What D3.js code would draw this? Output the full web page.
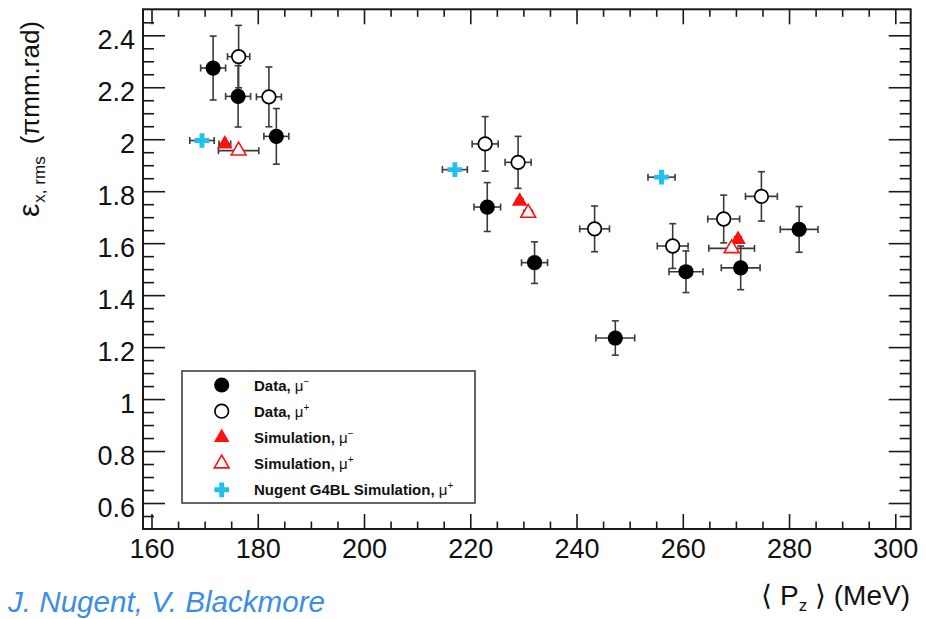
<!DOCTYPE html>
<html>
<head>
<meta charset="utf-8">
<script src="https://cdn.jsdelivr.net/npm/d3@7"></script>
<style>
  body { margin: 0; background: #fff; }
  svg { display: block; font-family: "Liberation Sans", Arial, Helvetica, sans-serif; }
</style>
</head>
<body>
<svg id="chart" width="926" height="619"></svg>
<script>
// Each row: [<Pz> (MeV), emittance (pi mm rad), Pz error, emittance error]
const dataMuMinus = [
  [171.6, 2.274, 2.35, 0.123], [176.3, 2.165, 2.35, 0.118], [183.5, 2.011, 2.35, 0.107],
  [223.2, 1.739, 2.5, 0.094],  [232.1, 1.525, 2.45, 0.080], [247.3, 1.235, 3.65, 0.066],
  [260.6, 1.490, 3.2, 0.080],  [270.9, 1.505, 3.65, 0.084], [281.9, 1.653, 3.55, 0.088]
];
const dataMuPlus = [
  [176.4, 2.318, 2.1, 0.120],  [182.1, 2.163, 2.35, 0.115], [222.8, 1.982, 2.45, 0.105],
  [229.0, 1.911, 2.45, 0.100], [243.4, 1.655, 2.8, 0.088],  [258.1, 1.589, 2.9, 0.086],
  [267.7, 1.693, 3.0, 0.092],  [274.8, 1.780, 3.0, 0.095]
];
const simMuMinus = [[173.8, 1.982, 1.1, 0], [229.3, 1.761, 0.6, 0], [270.4, 1.614, 0.6, 0]];
const simMuPlus  = [[176.4, 1.956, 3.8, 0], [230.9, 1.716, 0.8, 0], [269.2, 1.580, 4.3, 0]];
const g4blMuPlus = [[169.5, 1.995, 2.3, 0], [217.1, 1.883, 2.35, 0], [256.0, 1.854, 2.55, 0]];

const xTicks = [160, 180, 200, 220, 240, 260, 280, 300];
const yTicks = [0.6, 0.8, 1.0, 1.2, 1.4, 1.6, 1.8, 2.0, 2.2, 2.4];
const legendLabels = [
  ["Data, ", "\u2212"], ["Data, ", "+"], ["Simulation, ", "\u2212"],
  ["Simulation, ", "+"], ["Nugent G4BL Simulation, ", "+"]
];

const W = 926, H = 619;
const margin = { left: 143, right: 15.3, top: 9.3, bottom: 90 };
const svg = d3.select("#chart");

const x = d3.scaleLinear().domain([158.4, 302.9]).range([margin.left, W - margin.right]);
const y = d3.scaleLinear().domain([0.5, 2.5]).range([H - margin.bottom, margin.top]);
const x0 = margin.left, x1 = W - margin.right, y0 = H - margin.bottom, y1 = margin.top;

const ink = "#1a1a1a";
const barInk = "#3a3a3a";
const red = "#ff1010";
const cyan = "#22c0f0";

// ---- axes: ROOT-style inward ticks on all four sides ----
const xMinor = d3.range(32, 61).map(i => i * 5).filter(v => v % 20 !== 0 && v > 158.4 && v < 302.9);
const yMinor = d3.range(11, 50).filter(i => i % 4 !== 0).map(i => +(i * 0.05).toFixed(2));

function styleAxis(g) {
  g.select(".domain").remove();
  g.selectAll(".tick line").attr("stroke", ink).attr("stroke-width", 1.6);
  g.selectAll(".tick text").attr("fill", "#111").style("font-size", "27px")
    .style("font-family", "'Liberation Sans', Arial, sans-serif");
}

const fmtY = d => (Math.abs(d - Math.round(d)) < 1e-9 ? d3.format("d")(d) : d3.format(".1f")(d));

svg.append("g").attr("transform", `translate(0,${y0})`)
  .call(d3.axisBottom(x).tickValues(xTicks).tickSizeInner(-15).tickSizeOuter(0).tickPadding(10))
  .call(styleAxis);
svg.append("g").attr("transform", `translate(0,${y0})`)
  .call(d3.axisBottom(x).tickValues(xMinor).tickSizeInner(-7.5).tickSizeOuter(0).tickFormat(""))
  .call(styleAxis);
svg.append("g").attr("transform", `translate(0,${y1})`)
  .call(d3.axisTop(x).tickValues(xTicks).tickSizeInner(-15).tickSizeOuter(0).tickFormat(""))
  .call(styleAxis);
svg.append("g").attr("transform", `translate(0,${y1})`)
  .call(d3.axisTop(x).tickValues(xMinor).tickSizeInner(-7.5).tickSizeOuter(0).tickFormat(""))
  .call(styleAxis);

const yAxisG = svg.append("g").attr("transform", `translate(${x0},0)`)
  .call(d3.axisLeft(y).tickValues(yTicks).tickSizeInner(-22).tickSizeOuter(0).tickPadding(8).tickFormat(fmtY))
  .call(styleAxis);
yAxisG.selectAll(".tick text").attr("dy", "0.5em");
svg.append("g").attr("transform", `translate(${x0},0)`)
  .call(d3.axisLeft(y).tickValues(yMinor).tickSizeInner(-11).tickSizeOuter(0).tickFormat(""))
  .call(styleAxis);
svg.append("g").attr("transform", `translate(${x1},0)`)
  .call(d3.axisRight(y).tickValues(yTicks).tickSizeInner(-22).tickSizeOuter(0).tickFormat(""))
  .call(styleAxis);
svg.append("g").attr("transform", `translate(${x1},0)`)
  .call(d3.axisRight(y).tickValues(yMinor).tickSizeInner(-11).tickSizeOuter(0).tickFormat(""))
  .call(styleAxis);

// frame
svg.append("rect")
  .attr("x", x0).attr("y", y1).attr("width", x1 - x0).attr("height", y0 - y1)
  .attr("fill", "none").attr("stroke", ink).attr("stroke-width", 2);

// ---- error bars ----
const cap = 3.5;
const allSeries = [dataMuMinus, dataMuPlus, simMuMinus, simMuPlus, g4blMuPlus];
const bars = svg.append("g").attr("stroke", barInk).attr("stroke-width", 1.6).attr("fill", "none");
allSeries.forEach(series => {
  series.forEach(([p, e, dp, de]) => {
    const cx = x(p), cy = y(e);
    if (dp > 0) {
      const xa = x(p - dp), xb = x(p + dp);
      bars.append("line").attr("x1", xa).attr("x2", xb).attr("y1", cy).attr("y2", cy);
      bars.append("line").attr("x1", xa).attr("x2", xa).attr("y1", cy - cap).attr("y2", cy + cap);
      bars.append("line").attr("x1", xb).attr("x2", xb).attr("y1", cy - cap).attr("y2", cy + cap);
    }
    if (de > 0) {
      const ya = y(e + de), yb = y(e - de);
      bars.append("line").attr("x1", cx).attr("x2", cx).attr("y1", ya).attr("y2", yb);
      bars.append("line").attr("x1", cx - cap).attr("x2", cx + cap).attr("y1", ya).attr("y2", ya);
      bars.append("line").attr("x1", cx - cap).attr("x2", cx + cap).attr("y1", yb).attr("y2", yb);
    }
  });
});

// ---- markers ----
const triPath = d3.symbol().type(d3.symbolTriangle).size(105)();
const triOpenPath = d3.symbol().type(d3.symbolTriangle).size(95)();
const crossPath = d3.symbol().type(d3.symbolCross).size(120)();

const markerStyles = [
  g => g.append("circle").attr("r", 7.6).attr("fill", "#000"),
  g => g.append("circle").attr("r", 6.8).attr("fill", "#fff").attr("stroke", "#000").attr("stroke-width", 1.7),
  g => g.append("path").attr("d", triPath).attr("fill", red),
  g => g.append("path").attr("d", triOpenPath).attr("fill", "#fff").attr("stroke", red).attr("stroke-width", 1.6),
  g => g.append("path").attr("d", crossPath).attr("fill", cyan)
];

allSeries.forEach((series, i) => {
  svg.append("g").selectAll("g").data(series).join("g")
    .attr("transform", d => `translate(${x(d[0])},${y(d[1])})`)
    .each(function () { markerStyles[i](d3.select(this)); });
});

// ---- legend ----
const legend = svg.append("g");
legend.append("rect").attr("x", 182).attr("y", 371).attr("width", 293).attr("height", 132)
  .attr("fill", "#fff").attr("stroke", "#333").attr("stroke-width", 1.5);
legendLabels.forEach(([label, sign], i) => {
  const ry = 385 + i * 26.2;
  const mg = legend.append("g").attr("transform", `translate(221.7,${ry})`);
  markerStyles[i](mg);
  const t = legend.append("text").attr("x", 254).attr("y", ry + 5.5)
    .style("font-size", "15px").style("font-weight", "bold").attr("fill", "#111");
  t.append("tspan").text(label);
  t.append("tspan").text("\u03bc").style("font-weight", "normal");
  t.append("tspan").text(sign).attr("dy", -6).style("font-size", "10px").style("font-weight", "normal");
});

// ---- axis titles ----
const yTitle = svg.append("text")
  .attr("transform", "translate(39,217) rotate(-90)")
  .attr("text-anchor", "start").attr("fill", "#111");
yTitle.append("tspan").text("\u03b5").style("font-size", "30px");
yTitle.append("tspan").text("x, rms").attr("dx", 1).attr("dy", 6).style("font-size", "17px");
yTitle.append("tspan").text("(\u03c0mm.rad)").attr("dx", 12).attr("dy", -6).style("font-size", "26px");

const xTitle = svg.append("text")
  .attr("x", 910).attr("y", 605).attr("text-anchor", "end").attr("fill", "#111")
  .style("font-size", "28px");
xTitle.append("tspan").text("\u27e8 P");
xTitle.append("tspan").text("z").attr("dy", 6).style("font-size", "17px");
xTitle.append("tspan").text(" \u27e9 (MeV)").attr("dy", -6);

// author credit
svg.append("text").attr("x", 8).attr("y", 612)
  .attr("fill", "#3a8ee6").style("font-style", "italic").style("font-size", "29px")
  .attr("textLength", 317).attr("lengthAdjust", "spacingAndGlyphs")
  .text("J. Nugent, V. Blackmore");
</script>
</body>
</html>
